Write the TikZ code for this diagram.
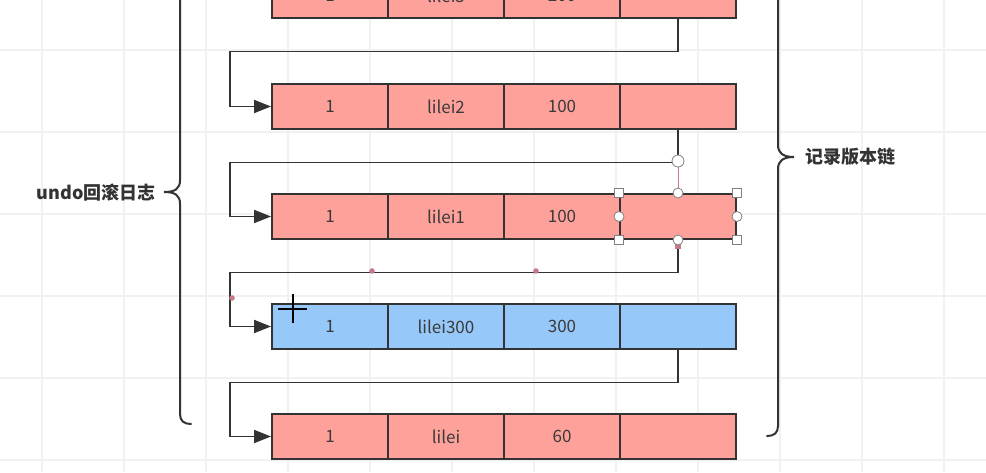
\documentclass[tikz,border=0pt]{standalone}
\usepackage{fontspec}
\setmainfont{Noto Sans CJK SC}
\usetikzlibrary{arrows.meta}
\definecolor{pinkc}{HTML}{FFA19B}
\definecolor{bluec}{HTML}{96C8FA}
\definecolor{linec}{HTML}{333333}
\definecolor{textc}{HTML}{3A3A3A}
\definecolor{gridc}{HTML}{F1F1F1}
\definecolor{handc}{HTML}{C47888}
\newcommand\cellrow[6]{%
  \node[#3] (#1a) at (330,#2) {#4};
  \node[#3] (#1b) at (446,#2) {#5};
  \node[#3] (#1c) at (562,#2) {#6};
  \node[#3] (#1d) at (678,#2) {};
}
\begin{document}
\begin{tikzpicture}[x=1pt,y=-1pt,
  cell/.style={draw=linec, line width=2pt, minimum width=116pt, minimum height=45pt, inner sep=0pt, font=\fontsize{17}{19}\selectfont, text=textc},
  pinkcell/.style={cell, fill=pinkc},
  bluecell/.style={cell, fill=bluec},
  conn/.style={draw=linec, line width=1.9pt, -{Triangle[length=17pt,width=13pt]}},
  brace/.style={draw=linec, line width=2pt, line cap=round},
  label/.style={font=\bfseries\fontsize{18}{21}\selectfont, text=linec, inner sep=0pt},
  sqhandle/.style={draw=gray, fill=white, line width=0.8pt, minimum size=9pt, inner sep=0pt},
  cihandle/.style={draw=gray, fill=white, line width=0.8pt, circle, minimum size=10pt, inner sep=0pt},
  gridline/.style={draw=gridc, line width=1.4pt}]
\useasboundingbox (0,0) rectangle (986,472);
\clip (0,0) rectangle (986,472);
\fill[white] (0,0) rectangle (986,472);
\foreach \x in {42,124,...,944} \draw[gridline] (\x,0) -- (\x,472);
\foreach \y in {50,132,...,460} \draw[gridline] (0,\y) -- (986,\y);

\cellrow{r1}{-4.5}{pinkcell}{1}{lilei3}{200}
\cellrow{r2}{106.5}{pinkcell}{1}{lilei2}{100}
\cellrow{r3}{216.5}{pinkcell}{1}{lilei1}{100}
\cellrow{r4}{326.5}{bluecell}{1}{lilei300}{300}
\cellrow{r5}{436.5}{pinkcell}{1}{lilei}{60}

\coordinate (k2) at ([xshift=-41pt]r2a.west);
\coordinate (k3) at ([xshift=-41pt]r3a.west);
\coordinate (k4) at ([xshift=-41pt]r4a.west);
\coordinate (k5) at ([xshift=-41pt]r5a.west);
\draw[conn] (r1d.south) -- ++(0,32.5) -| (k2) -- (r2a.west);
\draw[conn] (r2d.south) -- ++(0,32.5) -| (k3) -- (r3a.west);
\draw[conn] (r3d.south) -- ++(0,32.5) -| (k4) -- (r4a.west);
\draw[conn] (r4d.south) -- ++(0,32.5) -| (k5) -- (r5a.west);

\draw[brace] (180,-10) -- (180,180) .. controls (180,189) and (175,192) .. (164,192) .. controls (175,192) and (180,195) .. (180,204) -- (180,414) .. controls (180,421) and (184,424) .. (191,424);
\draw[brace] (778,-10) -- (778,145) .. controls (778,153) and (783,157) .. (794,157) .. controls (783,157) and (778,161) .. (778,169) -- (778,426) .. controls (778,433) and (774,436) .. (767,436);
\node[label, anchor=east] (undo) at (156,193) {undo回滚日志};
\node[label, anchor=west] (ver) at (805,157) {记录版本链};

% selection handles
\coordinate (rot) at (678,161);
\draw[handc, line width=1pt] (r3d.north) -- (rot);
\node[cihandle, minimum size=12pt] (hrot) at (rot) {};
\fill[handc] (675,242) rectangle (681,249);
\node[sqhandle] (h1) at (r3d.north west) {};
\node[sqhandle] (h2) at (r3d.north east) {};
\node[sqhandle] (h3) at (r3d.south west) {};
\node[sqhandle] (h4) at (r3d.south east) {};
\node[cihandle] (h5) at (r3d.north) {};
\node[cihandle] (h6) at (r3d.south) {};
\node[cihandle] (h7) at (r3d.west) {};
\node[cihandle] (h8) at (r3d.east) {};
\fill[handc] (372,271) circle (2.8) (536,271) circle (2.8) (232,298) circle (2.8);
% cursor
\draw[black, line width=1.3pt] (278,309) -- (307,309) (293,294) -- (293,323);
\end{tikzpicture}
\end{document}
